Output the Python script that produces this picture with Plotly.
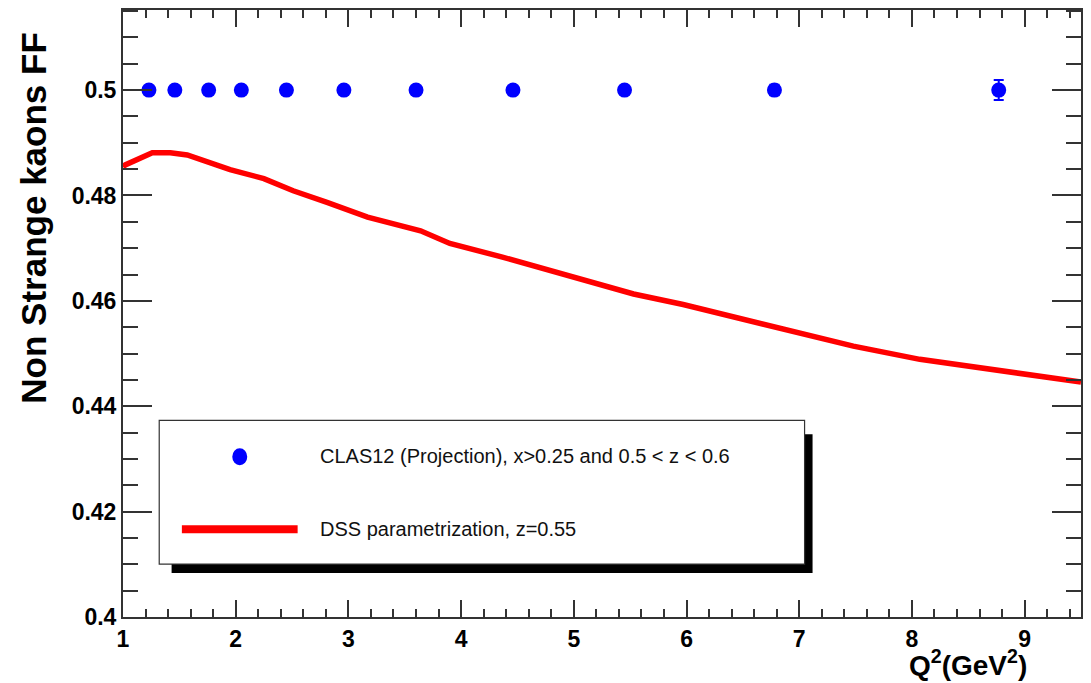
import plotly.graph_objects as go

# ---- data ----
q2_points = [1.23, 1.46, 1.76, 2.05, 2.45, 2.96, 3.60, 4.46, 5.45, 6.78, 8.77]
ff_points = [0.5, 0.5, 0.5, 0.5, 0.5, 0.5, 0.5, 0.5, 0.5, 0.5, 0.5]
ff_errors = [0.0002, 0.0002, 0.0002, 0.0003, 0.0003, 0.0003, 0.0004, 0.0005, 0.0007, 0.0010, 0.0019]

q2_curve = [1.0, 1.02, 1.26, 1.42, 1.57, 1.75, 1.95, 2.25, 2.51, 2.81, 3.17, 3.64, 3.90,
            4.35, 4.94, 5.53, 5.97, 6.48, 6.83, 7.48, 8.07, 8.81, 9.5]
ff_curve = [0.4854, 0.4858, 0.4881, 0.4881, 0.4877, 0.4863, 0.4849, 0.4832, 0.4809, 0.4787,
            0.4759, 0.4733, 0.4709, 0.4684, 0.4649, 0.4613, 0.4593, 0.4567, 0.4547, 0.4514,
            0.4489, 0.4467, 0.4446]

x_tickvals = [1, 2, 3, 4, 5, 6, 7, 8, 9]
x_ticktext = ["1", "2", "3", "4", "5", "6", "7", "8", "9"]
y_tickvals = [0.40, 0.42, 0.44, 0.46, 0.48, 0.50]
y_ticktext = ["0.4", "0.42", "0.44", "0.46", "0.48", "0.5"]

label_points = "CLAS12 (Projection), x>0.25 and 0.5 < z < 0.6"
label_curve = "DSS parametrization, z=0.55"

W, H = 1091, 683
ml, mr, mt, mb = 123, 8, 9, 66
pw, ph = W - ml - mr, H - mt - mb


def px(x):
    return (x - ml) / pw


def py(y):
    return (H - mb - y) / ph


fig = go.Figure()
fig.add_trace(go.Scatter(
    x=q2_curve, y=ff_curve, mode="lines",
    line=dict(color="#ff0000", width=5.5), showlegend=False))
fig.add_trace(go.Scatter(
    x=q2_points, y=ff_points, mode="markers",
    marker=dict(color="#0000ff", size=15, symbol="circle"),
    error_y=dict(type="data", array=ff_errors, color="#0000ff", thickness=2, width=5),
    showlegend=False))

axis_common = dict(showline=True, linecolor="#333333", linewidth=2, mirror="ticks",
                   ticks="inside", tickcolor="#333333", tickwidth=2,
                   showgrid=False, zeroline=False,
                   tickfont=dict(family="Liberation Sans, Arial", size=23, color="#000000", weight="bold"))

fig.update_xaxes(range=[1, 9.5], tickvals=x_tickvals, ticktext=x_ticktext, ticklen=17,
                 minor=dict(dtick=0.2, ticks="inside", ticklen=8, tickcolor="#333333", tickwidth=2, showgrid=False),
                 **axis_common)
fig.update_yaxes(range=[0.4, 0.5152], tickvals=y_tickvals, ticktext=y_ticktext, ticklen=29,
                 minor=dict(dtick=0.005, tick0=0.4, ticks="inside", ticklen=15, tickcolor="#333333", tickwidth=2, showgrid=False),
                 **axis_common)

shapes = []
# legend shadow
shapes.append(dict(type="rect", xref="paper", yref="paper",
                   x0=px(171.7), x1=px(814), y0=py(573), y1=py(434),
                   fillcolor="#000000", line=dict(width=0), layer="above"))
# legend box
shapes.append(dict(type="rect", xref="paper", yref="paper",
                   x0=px(159.3), x1=px(806), y0=py(564), y1=py(420),
                   fillcolor="#ffffff", line=dict(color="#333333", width=1.2), layer="above"))
# legend marker
shapes.append(dict(type="circle", xref="paper", yref="paper",
                   x0=px(232.5), x1=px(247.5), y0=py(465), y1=py(448),
                   fillcolor="#0000ff", line=dict(width=0), layer="above"))
# legend line
shapes.append(dict(type="line", xref="paper", yref="paper",
                   x0=px(182), x1=px(298), y0=py(529), y1=py(529),
                   line=dict(color="#ff0000", width=8), layer="above"))

annotations = [
    dict(text=label_points, xref="paper", yref="paper", x=px(318), y=py(456),
         xanchor="left", yanchor="middle", showarrow=False,
         font=dict(family="Liberation Sans, Arial", size=20, color="#111111")),
    dict(text=label_curve, xref="paper", yref="paper", x=px(318), y=py(529),
         xanchor="left", yanchor="middle", showarrow=False,
         font=dict(family="Liberation Sans, Arial", size=20, color="#111111")),
    dict(text="Non Strange kaons FF", xref="paper", yref="paper", x=px(33), y=py(30),
         xanchor="center", yanchor="top", textangle=-90, showarrow=False,
         font=dict(family="Liberation Sans, Arial", size=35, color="#000000", weight="bold")),
    dict(text="Q<sup>2</sup>(GeV<sup>2</sup>)", xref="paper", yref="paper", x=px(1031), y=py(683),
         xanchor="right", yanchor="bottom", showarrow=False,
         font=dict(family="Liberation Sans, Arial", size=28, color="#000000", weight="bold")),
]

fig.update_layout(width=W, height=H, margin=dict(l=ml, r=mr, t=mt, b=mb),
                  plot_bgcolor="#ffffff", paper_bgcolor="#ffffff",
                  shapes=shapes, annotations=annotations, showlegend=False)

fig.write_html("out.html")
